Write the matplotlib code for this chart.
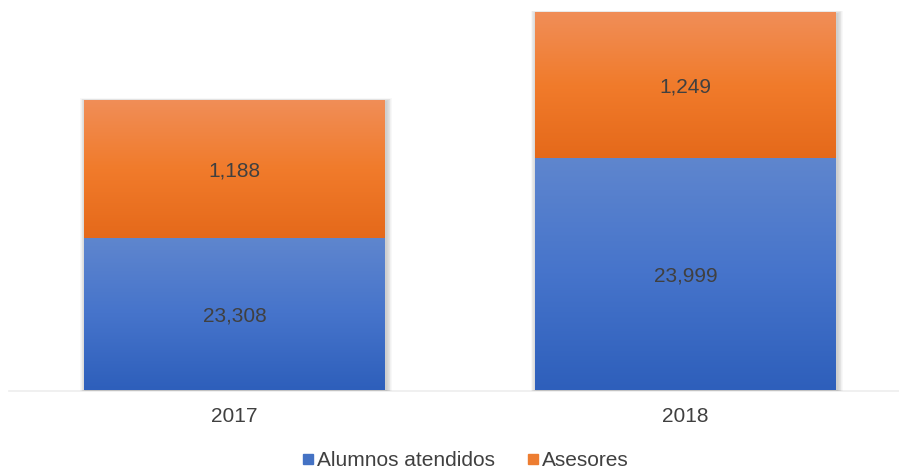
import numpy as np
import matplotlib
matplotlib.use("Agg")
import matplotlib.pyplot as plt
from matplotlib.patches import Rectangle
from matplotlib.lines import Line2D
from matplotlib.colors import LinearSegmentedColormap

years = ["2017", "2018"]
alumnos = [23308, 23999]
asesores = [1188, 1249]
series_names = ["Alumnos atendidos", "Asesores"]

plt.rcParams['font.family'] = ['Liberation Sans', 'DejaVu Sans']
TXT = '#404040'

W, H = 899, 470
fig = plt.figure(figsize=(W / 100, H / 100), dpi=100)
ax_left, ax_right = 9, 899
ax_bottom_px = 390.5
ax = fig.add_axes([ax_left / W, (H - ax_bottom_px) / H, (ax_right - ax_left) / W, ax_bottom_px / H])
c0, spacing = 234.5, 451.0
ymin = 22000
upp = 8.59
ax.axis('off')

bw = 301 / spacing
blue_cm = LinearSegmentedColormap.from_list('b', ['#5F86CE', '#4674CB', '#2E5FBB'])
orange_cm = LinearSegmentedColormap.from_list('o', ['#F08E58', '#F17B2B', '#E5691A'])

px_x = 1 / spacing
px_y = upp

def shadow(x0, y0, w, h):
    for k in range(1, 8):
        r = Rectangle((x0 - k * px_x * 0.8 + 1.5 * px_x, y0 - k * px_y * 0.5 - 1.0 * px_y),
                      w + 2 * k * px_x * 0.8, h + k * px_y * 0.9,
                      facecolor='black', edgecolor='none', alpha=0.028, zorder=1)
        ax.add_patch(r)

def grad_bar(x0, y0, w, h, cmap):
    rect = Rectangle((x0, y0), w, h, facecolor='none', edgecolor='none', zorder=3)
    ax.add_patch(rect)
    g = np.linspace(0, 1, 256).reshape(-1, 1)
    im = ax.imshow(g, extent=(x0, x0 + w, y0, y0 + h), origin='upper', cmap=cmap,
                   aspect='auto', zorder=3, interpolation='bilinear')
    im.set_clip_path(rect)

for i, (a, s) in enumerate(zip(alumnos, asesores)):
    x0 = i - bw / 2
    shadow(x0, ymin, bw, a + s - ymin)
    grad_bar(x0, ymin, bw, a - ymin, blue_cm)
    grad_bar(x0, a, bw, s, orange_cm)
    ax.annotate(f"{a:,}", (i, (ymin + a) / 2), xytext=(0, -2), textcoords='offset pixels',
                ha='center', va='center', fontsize=15, color=TXT, zorder=5)
    ax.annotate(f"{s:,}", (i, a + s / 2), xytext=(0, -2), textcoords='offset pixels',
                ha='center', va='center', fontsize=15, color=TXT, zorder=5)

ax.set_xlim((ax_left - c0) / spacing, (ax_right - c0) / spacing)
ax.set_ylim(ymin, ymin + ax_bottom_px * upp)

# baseline
ax.plot([0, 1], [ymin, ymin], transform=ax.get_yaxis_transform(), color='#EDEDED', lw=1.2, zorder=0, clip_on=False)

for i, y in enumerate(years):
    fig.text((c0 + i * spacing) / W, (H - 416) / H, y, ha='center', va='center', fontsize=15, color=TXT)

handles = [Line2D([], [], marker='s', ls='none', markersize=7.3, color='#4472C4'),
           Line2D([], [], marker='s', ls='none', markersize=7.3, color='#ED7D31')]
fig.legend(handles, series_names, loc='center', bbox_to_anchor=(464 / W, (H - 461) / H), ncol=2,
           frameon=False, fontsize=15, labelcolor=TXT, handletextpad=0.05, columnspacing=1.4,
           handlelength=0.8, borderpad=0, borderaxespad=0)

fig.savefig('out.png', dpi=100)
